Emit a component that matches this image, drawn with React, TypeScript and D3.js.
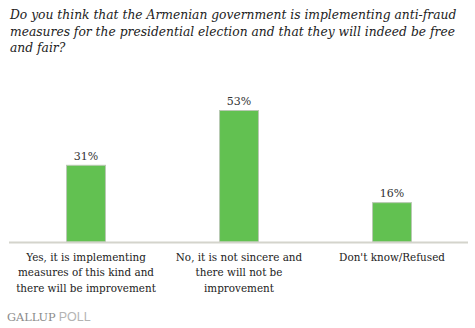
import React from "react";
import * as d3 from "d3";

const categories: string[][] = [
  ["Yes, it is implementing", "measures of this kind and", "there will be improvement"],
  ["No, it is not sincere and", "there will not be", "improvement"],
  ["Don't know/Refused"],
];
const values: number[] = [31, 53, 16];
const titleLines: string[] = [
  "Do you think that the Armenian government is implementing anti-fraud",
  "measures for the presidential election and that they will indeed be free",
  "and fair?",
];

const W = 475;
const H = 328;
const baseY = 242;

export default function App() {
  const x = d3
    .scaleBand<number>()
    .domain(values.map((_, i) => i))
    .range([9.5, 468.5])
    .paddingInner(0.739)
    .paddingOuter(0.3695);
  const y = d3.scaleLinear().domain([0, 53]).range([baseY, 110]);
  const serif = "'DejaVu Serif', serif";
  return (
    <svg
      width={W}
      height={H}
      style={{ position: "absolute", left: 0, top: 0, background: "#fff" }}
    >
      {titleLines.map((t, i) => (
        <text
          key={i}
          x={10}
          y={19 + i * 16.5}
          fontFamily={serif}
          fontStyle="italic"
          fontSize={12.3}
          fill="#222"
        >
          {t}
        </text>
      ))}
      {values.map((v, i) => (
        <g key={i}>
          <rect
            x={(x(i) as number) + 0.5}
            y={y(v) + 0.5}
            width={x.bandwidth() - 1}
            height={baseY - y(v) - 0.5}
            fill="#62c151"
            stroke="#b9c9b3"
            strokeWidth={1}
          />
          <text
            x={(x(i) as number) + x.bandwidth() / 2}
            y={y(v) - 5}
            textAnchor="middle"
            fontFamily={serif}
            fontSize={11}
            fill="#333"
          >
            {v}%
          </text>
        </g>
      ))}
      <line x1={9} x2={468} y1={baseY + 0.5} y2={baseY + 0.5} stroke="#d4d4cc" strokeWidth={2} />
      {categories.map((lines, i) =>
        lines.map((l, j) => (
          <text
            key={`${i}-${j}`}
            x={(x(i) as number) + x.bandwidth() / 2}
            y={261 + j * 15.3}
            textAnchor="middle"
            fontFamily={serif}
            fontSize={10.4}
            fill="#222"
          >
            {l}
          </text>
        ))
      )}
      <text x={7} y={321} fontSize={11.3} fill="#8a8a8a" fontFamily={serif}>
        GALLUP
        <tspan fontFamily="'Liberation Sans', Arial, sans-serif" fontSize={12.5} fill="#b4b4b4" dx={3}>
          POLL
        </tspan>
      </text>
    </svg>
  );
}
